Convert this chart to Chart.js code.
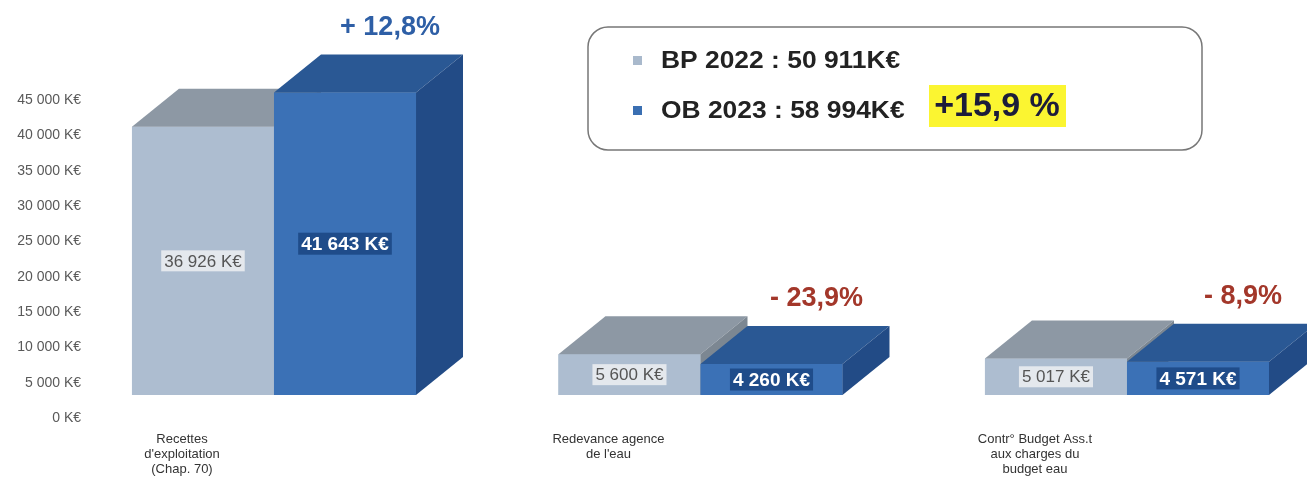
<!DOCTYPE html>
<html>
<head>
<meta charset="utf-8">
<script src="https://cdn.jsdelivr.net/npm/chart.js@4.4.0/dist/chart.umd.min.js"></script>
<style>
    html, body { margin: 0; padding: 0; background: #fff; overflow: hidden; }
</style>
</head>
<body>
<canvas id="graficoBudget" width="1307" height="479"></canvas>
<script>
// Dados do gráfico
const categorias = [
    ['Recettes', "d'exploitation", '(Chap. 70)'],
    ['Redevance agence', "de l'eau"],
    ['Contr° Budget Ass.t', 'aux charges du', 'budget eau']
]
const nomesSeries = ['BP 2022', 'OB 2023']
const valoresBP = [36926, 5600, 5017]
const valoresOB = [41643, 4260, 4571]
const totaisSeries = [50911, 58994]
const ticksEixoY = [0, 5000, 10000, 15000, 20000, 25000, 30000, 35000, 40000, 45000]

// Cores e profundidade do efeito 3D
const corCinza = { frente: '#adbdd0', topo: '#8d98a4', lado: '#7c8792', legenda: '#a9b9cc' }
const corAzul = { frente: '#3b71b6', topo: '#2a5894', lado: '#224b86', legenda: '#3a6fb2' }
const cores = [corCinza, corAzul]
const dx = 47, dy = -38
const fonte = '"Liberation Sans", Arial, sans-serif'

function formatarK(valor) {
    return String(valor).replace(/\B(?=(\d{3})+(?!\d))/g, ' ') + ' K€'
}

function variacao(antes, depois) {
    return (depois / antes - 1) * 100
}

function poligono(c, pontos, cor) {
    c.beginPath()
    c.moveTo(pontos[0][0], pontos[0][1])
    for (let i = 1; i < pontos.length; i++) c.lineTo(pontos[i][0], pontos[i][1])
    c.closePath()
    c.fillStyle = cor
    c.fill()
}

function etiqueta(c, texto, x, y, font, corFundo, corTexto, padX, alt) {
    c.font = font
    const w = c.measureText(texto).width
    c.fillStyle = corFundo
    c.fillRect(x - w / 2 - padX, y - alt / 2, w + padX * 2, alt)
    c.fillStyle = corTexto
    c.textAlign = 'center'
    c.textBaseline = 'middle'
    c.fillText(texto, x, y + 1)
}

// Plugin que desenha o topo e a lateral das barras (efeito 3D), os valores e a legenda
const barras3D = {
    id: 'barras3D',
    afterDatasetsDraw(chart) {
        const c = chart.ctx
        c.save()
        chart.data.datasets.forEach((ds, d) => {
            const meta = chart.getDatasetMeta(d)
            meta.data.forEach(barra => {
                const p = barra.getProps(['x', 'y', 'base', 'width'], true)
                const esq = p.x - p.width / 2, dir = p.x + p.width / 2
                barra.draw(c)
                poligono(c, [[esq, p.y], [dir, p.y], [dir + dx, p.y + dy], [esq + dx, p.y + dy]], cores[d].topo)
                poligono(c, [[dir, p.y], [dir + dx, p.y + dy], [dir + dx, p.base + dy], [dir, p.base]], cores[d].lado)
            })
        })

        // Valores dentro das barras
        const metaBP = chart.getDatasetMeta(0)
        const metaOB = chart.getDatasetMeta(1)
        metaBP.data.forEach((barra, i) => {
            const p = barra.getProps(['x', 'y', 'base'], true)
            etiqueta(c, formatarK(valoresBP[i]), p.x, (p.y + p.base) / 2, '17px ' + fonte, '#e4e8ed', '#555', 3, 21)
        })
        metaOB.data.forEach((barra, i) => {
            const p = barra.getProps(['x', 'y', 'base'], true)
            etiqueta(c, formatarK(valoresOB[i]), p.x, (p.y + p.base) / 2, 'bold 19px ' + fonte, '#1f4c8a', '#fff', 3, 22)

            // Variação acima da barra azul
            const v = variacao(valoresBP[i], valoresOB[i])
            const texto = (v >= 0 ? '+ ' : '- ') + Math.abs(v).toFixed(1).replace('.', ',') + '%'
            c.font = 'bold 27px ' + fonte
            c.fillStyle = v >= 0 ? '#2e5fa6' : '#a3372a'
            c.textAlign = 'center'
            c.textBaseline = 'middle'
            c.fillText(texto, p.x + 45, p.y + dy - 27)
        })

        // Legenda em caixa arredondada
        const bx = 588, by = 27, bw = 614, bh = 123, r = 20
        c.beginPath()
        c.moveTo(bx + r, by)
        c.arcTo(bx + bw, by, bx + bw, by + bh, r)
        c.arcTo(bx + bw, by + bh, bx, by + bh, r)
        c.arcTo(bx, by + bh, bx, by, r)
        c.arcTo(bx, by, bx + bw, by, r)
        c.closePath()
        c.fillStyle = '#fff'
        c.fill()
        c.strokeStyle = '#777'
        c.lineWidth = 1.5
        c.stroke()

        const linhasY = [60, 110]
        nomesSeries.forEach((nome, s) => {
            c.fillStyle = cores[s].legenda
            c.fillRect(633, linhasY[s] - 4, 9, 9)
            c.save()
            c.translate(661, linhasY[s] + 1)
            c.scale(1.1, 1)
            c.font = 'bold 24px ' + fonte
            c.fillStyle = '#222'
            c.textAlign = 'left'
            c.textBaseline = 'middle'
            c.fillText(nome + ' : ' + formatarK(totaisSeries[s]).replace(' K€', 'K€'), 0, 0)
            c.restore()
        })

        const vTotal = variacao(totaisSeries[0], totaisSeries[1])
        c.fillStyle = '#fbf531'
        c.fillRect(929, 85, 137, 42)
        c.font = 'bold 34px ' + fonte
        c.fillStyle = '#1c1c3a'
        c.textAlign = 'center'
        c.textBaseline = 'middle'
        c.fillText((vTotal >= 0 ? '+' : '-') + Math.abs(vTotal).toFixed(1).replace('.', ',') + ' %', 997, 107)
        c.restore()
    }
}

// GRÁFICO
const ctx = document.getElementById('graficoBudget')
new Chart(ctx, {
    type: 'bar',
    data: {
        datasets: [{
            label: nomesSeries[0],
            data: valoresBP.map((v, i) => ({ x: i, y: v })),
            backgroundColor: corCinza.frente,
            yAxisID: 'y'
        }, {
            label: nomesSeries[1],
            data: valoresOB.map((v, i) => ({ x: i, y: v })),
            backgroundColor: corAzul.frente,
            yAxisID: 'y'
        }]
    },
    options: {
        responsive: false,
        animation: false,
        devicePixelRatio: 1,
        categoryPercentage: 0.666,
        barPercentage: 1,
        layout: { padding: { top: 68, left: 0, right: 0, bottom: 0 } },
        plugins: {
            legend: { display: false },
            tooltip: { enabled: false }
        },
        scales: {
            x: {
                type: 'linear',
                min: -0.4314,
                max: 2.4221,
                offset: false,
                grid: { display: false, drawTicks: false, offset: false },
                border: { display: false },
                afterBuildTicks: (s) => { s.ticks = categorias.map((c, i) => ({ value: i })) },
                afterFit: (s) => { s.height = 84 },
                ticks: {
                    autoSkip: false,
                    maxRotation: 0,
                    labelOffset: -92,
                    padding: 37,
                    color: '#333',
                    font: { family: fonte, size: 13, lineHeight: 1.15 },
                    callback: (v) => categorias[v]
                }
            },
            y: {
                display: false,
                min: 0,
                max: 45000
            },
            eixoY: {
                type: 'linear',
                position: 'left',
                min: 0,
                max: 46280,
                grid: { display: false, drawTicks: false },
                border: { display: false },
                afterBuildTicks: (s) => { s.ticks = ticksEixoY.map(v => ({ value: v })) },
                afterFit: (s) => { s.width = 90 },
                ticks: {
                    autoSkip: false,
                    labelOffset: 23,
                    padding: 9,
                    color: '#595959',
                    font: { family: fonte, size: 14 },
                    callback: (v) => formatarK(v)
                }
            }
        }
    },
    plugins: [barras3D]
});
</script>
</body>
</html>
